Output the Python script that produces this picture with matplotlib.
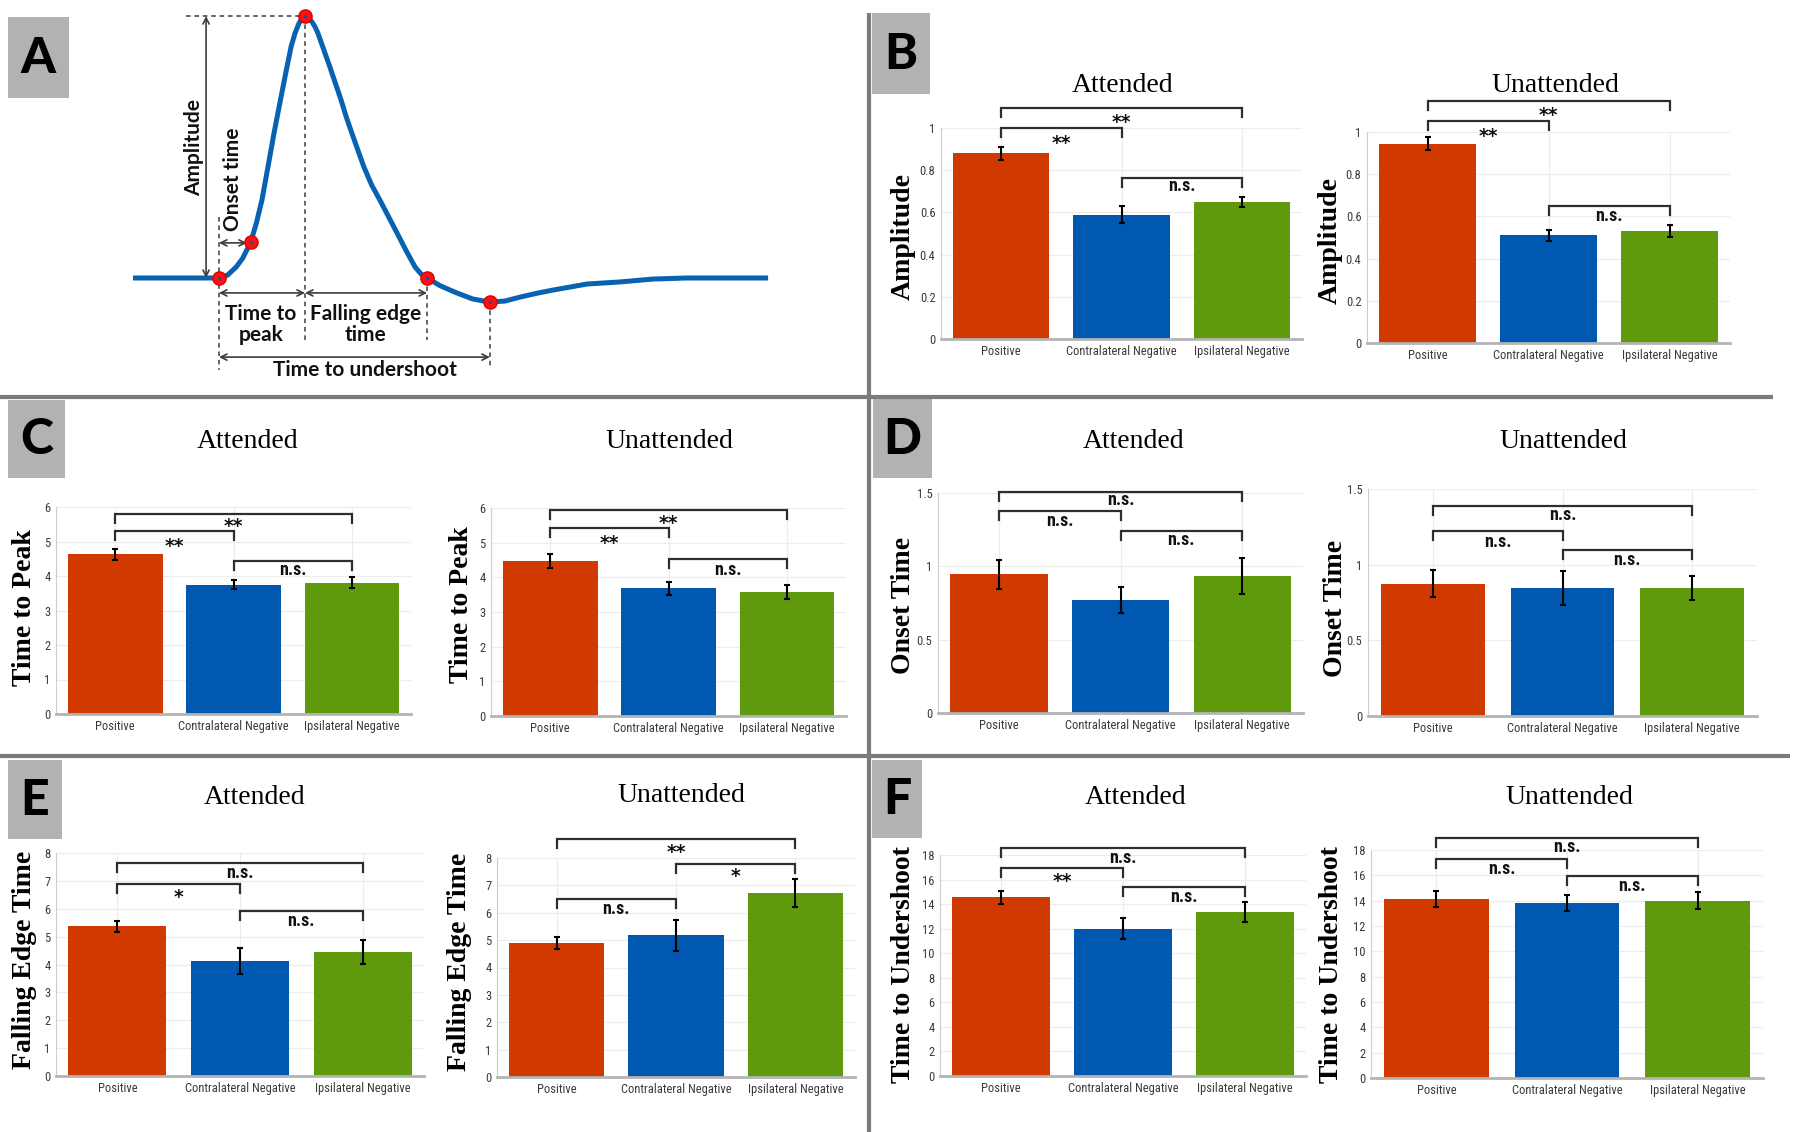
import matplotlib
matplotlib.use("Agg")
import matplotlib.pyplot as plt
import numpy as np
from matplotlib import font_manager as fm
from matplotlib.patches import Rectangle
from matplotlib.transforms import offset_copy

# ---------------- data ----------------
categories = ["Positive", "Contralateral Negative", "Ipsilateral Negative"]
bar_colors = ["#D03A00", "#0058B0", "#5E9A0C"]

amp_att = [0.88, 0.59, 0.65]
amp_att_err = [0.03, 0.04, 0.025]
amp_unatt = [0.945, 0.51, 0.53]
amp_unatt_err = [0.03, 0.025, 0.03]
amp_ticks = [0, 0.2, 0.4, 0.6, 0.8, 1.0]
amp_ticklabels = ["0", "0.2", "0.4", "0.6", "0.8", "1"]

ttp_att = [4.63, 3.75, 3.80]
ttp_att_err = [0.16, 0.13, 0.16]
ttp_unatt = [4.47, 3.68, 3.58]
ttp_unatt_err = [0.19, 0.18, 0.21]
ttp_ticks = [0, 1, 2, 3, 4, 5, 6]

onset_att = [0.945, 0.77, 0.935]
onset_att_err = [0.10, 0.09, 0.125]
onset_unatt = [0.875, 0.845, 0.845]
onset_unatt_err = [0.09, 0.11, 0.08]
onset_ticks = [0, 0.5, 1.0, 1.5]
onset_ticklabels = ["0", "0.5", "1", "1.5"]

fall_att = [5.37, 4.12, 4.45]
fall_att_err = [0.20, 0.47, 0.44]
fall_unatt = [4.90, 5.17, 6.73]
fall_unatt_err = [0.23, 0.56, 0.52]
fall_ticks = [0, 1, 2, 3, 4, 5, 6, 7, 8]

under_att = [14.55, 12.0, 13.35]
under_att_err = [0.55, 0.85, 0.80]
under_unatt = [14.15, 13.8, 14.0]
under_unatt_err = [0.62, 0.62, 0.68]
under_ticks = [0, 2, 4, 6, 8, 10, 12, 14, 16, 18]

# brackets: (bar i, bar j, bracket level, label, label level)
amp_att_br = [(1, 3, 1.095, "**", 1.05), (1, 2, 1.0, "**", 0.95), (2, 3, 0.763, "n.s.", 0.724)]
amp_unatt_br = [(1, 3, 1.145, "**", 1.10), (1, 2, 1.05, "**", 1.0), (2, 3, 0.65, "n.s.", 0.60)]
ttp_att_br = [(1, 3, 5.81, "**", 5.57), (1, 2, 5.30, "**", 4.99), (2, 3, 4.44, "n.s.", 4.17)]
ttp_unatt_br = [(1, 3, 5.95, "**", 5.69), (1, 2, 5.42, "**", 5.11), (2, 3, 4.54, "n.s.", 4.22)]
onset_att_br = [(1, 3, 1.507, "n.s.", 1.455), (1, 2, 1.38, "n.s.", 1.307), (2, 3, 1.243, "n.s.", 1.18)]
onset_unatt_br = [(1, 3, 1.39, "n.s.", 1.325), (1, 2, 1.22, "n.s.", 1.153), (2, 3, 1.098, "n.s.", 1.032)]
fall_att_br = [(1, 3, 7.64, "n.s.", 7.28), (1, 2, 6.90, "*", 6.57), (2, 3, 5.92, "n.s.", 5.55)]
fall_unatt_br = [(1, 3, 8.70, "**", 8.38), (2, 3, 7.79, "*", 7.49), (1, 2, 6.52, "n.s.", 6.15)]
under_att_br = [(1, 3, 18.54, "n.s.", 17.73), (1, 2, 16.91, "**", 16.23), (2, 3, 15.42, "n.s.", 14.55)]
under_unatt_br = [(1, 3, 18.92, "n.s.", 18.21), (1, 2, 17.29, "n.s.", 16.47), (2, 3, 15.97, "n.s.", 15.15)]

# schematic response (panel A), time in s, normalized signal
curve_t = [0.0, 1.5, 2.0, 2.2, 2.4, 2.55, 2.74, 2.87, 3.0, 3.14, 3.28, 3.43, 3.58, 3.68, 3.77,
           3.85, 3.92, 4.0, 4.08, 4.16, 4.23, 4.3, 4.44, 4.58, 4.71, 4.84, 4.96, 5.09, 5.23,
           5.37, 5.55, 5.74, 5.94, 6.14, 6.35, 6.56, 6.7, 6.84, 7.15, 7.53, 7.9, 8.3, 8.65,
           9.0, 9.4, 9.77, 10.56, 11.33, 12.09, 12.88, 14.77]
curve_s = [0.0, 0.0, 0.0, 0.011, 0.042, 0.075, 0.137, 0.21, 0.298, 0.425, 0.553, 0.68, 0.805, 0.885,
           0.935, 0.968, 0.99, 1.0, 0.993, 0.978, 0.96, 0.935, 0.87, 0.805, 0.742, 0.679, 0.615,
           0.553, 0.488, 0.424, 0.355, 0.298, 0.235, 0.172, 0.105, 0.042, 0.015, 0.0, -0.03,
           -0.057, -0.08, -0.092, -0.088, -0.073, -0.058, -0.046, -0.023, -0.015, -0.004, 0.0, 0.0]
key_t = [2.0, 2.74, 4.0, 6.84, 8.3]
key_s = [0.0, 0.137, 1.0, 0.0, -0.092]

# ---------------- fonts ----------------
names = {f.name for f in fm.fontManager.ttflist}
if "Liberation Sans Narrow" in names:
    tick_family, tick_size, sig_family, sig_size = "Liberation Sans Narrow", 9, "Liberation Sans Narrow", 13
elif "Roboto Condensed" in names:
    tick_family, tick_size, sig_family, sig_size = "Roboto Condensed", 9, "Roboto Condensed", 13
else:
    tick_family, tick_size, sig_family, sig_size = "Liberation Sans", 8, "Liberation Sans", 11.5
serif = "Liberation Serif"
label_font = "Lato" if "Lato" in names else "DejaVu Sans"

W, H = 1800, 1132
fig = plt.figure(figsize=(18, 11.32), dpi=100)


def fbox(x0, x1, y0, y1):
    return [x0 / W, 1 - y1 / H, (x1 - x0) / W, (y1 - y0) / H]


def ftext(x, y, s, **kw):
    fig.text(x / W, 1 - y / H, s, **kw)


# ---------------- background: dividers and panel labels ----------------
bg = fig.add_axes([0, 0, 1, 1], zorder=-10)
bg.set_xlim(0, W)
bg.set_ylim(H, 0)
bg.axis("off")
div_col = "#7b7b7b"
bg.plot([0, 1773], [397, 397], color=div_col, lw=3, solid_capstyle="butt")
bg.plot([0, 1790], [756, 756], color=div_col, lw=3, solid_capstyle="butt")
bg.plot([869, 869], [13, 1132], color=div_col, lw=3, solid_capstyle="butt")

panel_boxes = {"A": (8, 17, 69, 98), "B": (872, 13, 930, 94), "C": (8, 400, 65, 478),
               "D": (873, 399, 932, 478), "E": (8, 760, 62, 839), "F": (872, 760, 922, 838)}
for lab, (x0, y0, x1, y1) in panel_boxes.items():
    bg.add_patch(Rectangle((x0, y0), x1 - x0, y1 - y0, facecolor="#B2B2B2", edgecolor="none"))
    bg.text((x0 + x1) / 2, (y0 + y1) / 2 + 1, lab, ha="center", va="center",
            family=label_font, weight="black", size=36, color="black")

# ---------------- bar panels ----------------
xpos = np.arange(1, 4)


def bar_panel(box, means, errs, ticks, ticklabels, brackets):
    x0, x1, ytop, ybot = box
    ax = fig.add_axes(fbox(x0, x1, ytop, ybot))
    ax.patch.set_visible(False)
    ax.bar(xpos, means, width=0.8, color=bar_colors, zorder=2)
    ax.errorbar(xpos, means, yerr=errs, fmt="none", ecolor="black", elinewidth=1.5,
                capsize=2.2, capthick=1.5, zorder=3)
    ymax = ticks[-1]
    ax.set_xlim(0.5, 3.5)
    ax.set_ylim(0, ymax)
    ax.set_xticks(xpos)
    ax.set_xticklabels(categories, family=tick_family, size=tick_size, color="#3a3a3a")
    ax.set_yticks(ticks)
    ax.set_yticklabels(ticklabels if ticklabels else [str(t) for t in ticks],
                       family=tick_family, size=tick_size, color="#3a3a3a")
    ax.tick_params(length=0, pad=4)
    ax.grid(True, color="#ececec", lw=0.8)
    ax.set_axisbelow(True)
    for sp in ("top", "right"):
        ax.spines[sp].set_visible(False)
    ax.spines["left"].set_color("#cccccc")
    ax.spines["left"].set_linewidth(0.8)
    ax.spines["bottom"].set_color("#b4b4b4")
    ax.spines["bottom"].set_linewidth(2.0)
    leg = 9.0 * ymax / (ybot - ytop)
    star_tr = offset_copy(ax.transData, fig=fig, x=0, y=-5, units="dots")
    for i, j, yb, lab, yl in brackets:
        ax.plot([i, i, j, j], [yb - leg, yb, yb, yb - leg], color="#2e2e2e", lw=1.6,
                clip_on=False, zorder=4, solid_joinstyle="miter")
        if "*" in lab:
            ax.text((i + j) / 2, yl, lab, ha="center", va="center", family="DejaVu Sans",
                    weight="bold", size=13.5, color="#111111", clip_on=False,
                    transform=star_tr)
        else:
            ax.text((i + j) / 2, yl, lab, ha="center", va="center", family=sig_family,
                    weight="bold", size=sig_size, color="#111111", clip_on=False)
    return ax


def titles(att_xy, un_xy):
    ftext(att_xy[0], att_xy[1], "Attended", ha="center", va="center", family=serif, size=20)
    ftext(un_xy[0], un_xy[1], "Unattended", ha="center", va="center", family=serif, size=20)


def ylab(xy, s):
    ftext(xy[0], xy[1], s, ha="center", va="center", rotation=90, family=serif,
          weight="bold", size=20)


# B
bar_panel((941, 1302, 128, 339), amp_att, amp_att_err, amp_ticks, amp_ticklabels, amp_att_br)
bar_panel((1367, 1730, 132, 343), amp_unatt, amp_unatt_err, amp_ticks, amp_ticklabels, amp_unatt_br)
titles((1123, 85), (1555, 85))
ylab((903, 237), "Amplitude")
ylab((1330, 241), "Amplitude")

# C
bar_panel((56, 411, 507, 714), ttp_att, ttp_att_err, ttp_ticks, None, ttp_att_br)
bar_panel((491, 846, 508, 716), ttp_unatt, ttp_unatt_err, ttp_ticks, None, ttp_unatt_br)
titles((248, 442), (669, 442))
ylab((25, 608), "Time to Peak")
ylab((462, 605), "Time to Peak")

# D
bar_panel((938, 1303, 493, 713), onset_att, onset_att_err, onset_ticks, onset_ticklabels, onset_att_br)
bar_panel((1368, 1757, 489, 716), onset_unatt, onset_unatt_err, onset_ticks, onset_ticklabels, onset_unatt_br)
titles((1134, 442), (1563, 442))
ylab((903, 605), "Onset Time")
ylab((1336, 608), "Onset Time")

# E
bar_panel((56, 424, 853, 1076), fall_att, fall_att_err, fall_ticks, None, fall_att_br)
bar_panel((497, 855, 858, 1077), fall_unatt, fall_unatt_err, fall_ticks, None, fall_unatt_br)
titles((255, 797), (681, 796))
ylab((25, 960), "Falling Edge Time")
ylab((459, 962), "Falling Edge Time")

# F
bar_panel((940, 1306, 855, 1076), under_att, under_att_err, under_ticks, None, under_att_br)
bar_panel((1371, 1763, 850, 1078), under_unatt, under_unatt_err, under_ticks, None, under_unatt_br)
titles((1136, 797), (1569, 797))
ylab((904, 965), "Time to Undershoot")
ylab((1331, 965), "Time to Undershoot")

# ---------------- panel A schematic ----------------
axA = fig.add_axes(fbox(100, 800, 0, 395))
axA.set_xlim(-0.767, 15.512)
axA.set_ylim(-0.4466, 1.0611)
axA.axis("off")
ann = "#3c3c3c"
dash = (0, (3, 2.5))
axA.plot(curve_t, curve_s, color="#0862B2", lw=3.6, solid_capstyle="butt",
         solid_joinstyle="round", zorder=3)
axA.plot(key_t, key_s, "o", ms=9.5, mfc="#FF1010", mec="#E00000", zorder=4, clip_on=False)
axA.plot(key_t, key_s, "o", ms=2.6, mfc="#1F4F9F", mec="none", zorder=5, clip_on=False)

# guide lines
axA.plot([1.23, key_t[2]], [1.0, 1.0], color=ann, lw=1.1, ls=dash, zorder=1)
axA.plot([key_t[0], key_t[0]], [0.233, -0.351], color=ann, lw=1.1, ls=dash, zorder=1)
axA.plot([key_t[2], key_t[2]], [1.0, -0.237], color=ann, lw=1.1, ls=dash, zorder=1)
axA.plot([key_t[3], key_t[3]], [0.0, -0.237], color=ann, lw=1.1, ls=dash, zorder=1)
axA.plot([key_t[4], key_t[4]], [-0.092, -0.344], color=ann, lw=1.1, ls=dash, zorder=1)


def darrow(p, q):
    axA.annotate("", xy=q, xytext=p, arrowprops=dict(arrowstyle="<->", color=ann, lw=1.2,
                                                     shrinkA=0, shrinkB=0, mutation_scale=11))


darrow((1.70, 1.0), (1.70, 0.0))
darrow((2.0, 0.134), (2.65, 0.134))
darrow((2.0, -0.057), (4.0, -0.057))
darrow((4.0, -0.057), (6.84, -0.057))
darrow((2.0, -0.302), (8.3, -0.302))

tA = dict(family=label_font, weight="bold", size=15, color="#111111", ha="center", va="center")
axA.text(1.42, 0.5, "Amplitude", rotation=90, **tA)
axA.text(2.33, 0.378, "Onset time", rotation=90, **tA)
axA.text(2.98, -0.179, "Time to\npeak", linespacing=1.05, **tA)
axA.text(5.40, -0.179, "Falling edge\ntime", linespacing=1.05, **tA)
axA.text(5.40, -0.351, "Time to undershoot", **tA)

fig.savefig("out.png", dpi=100)
